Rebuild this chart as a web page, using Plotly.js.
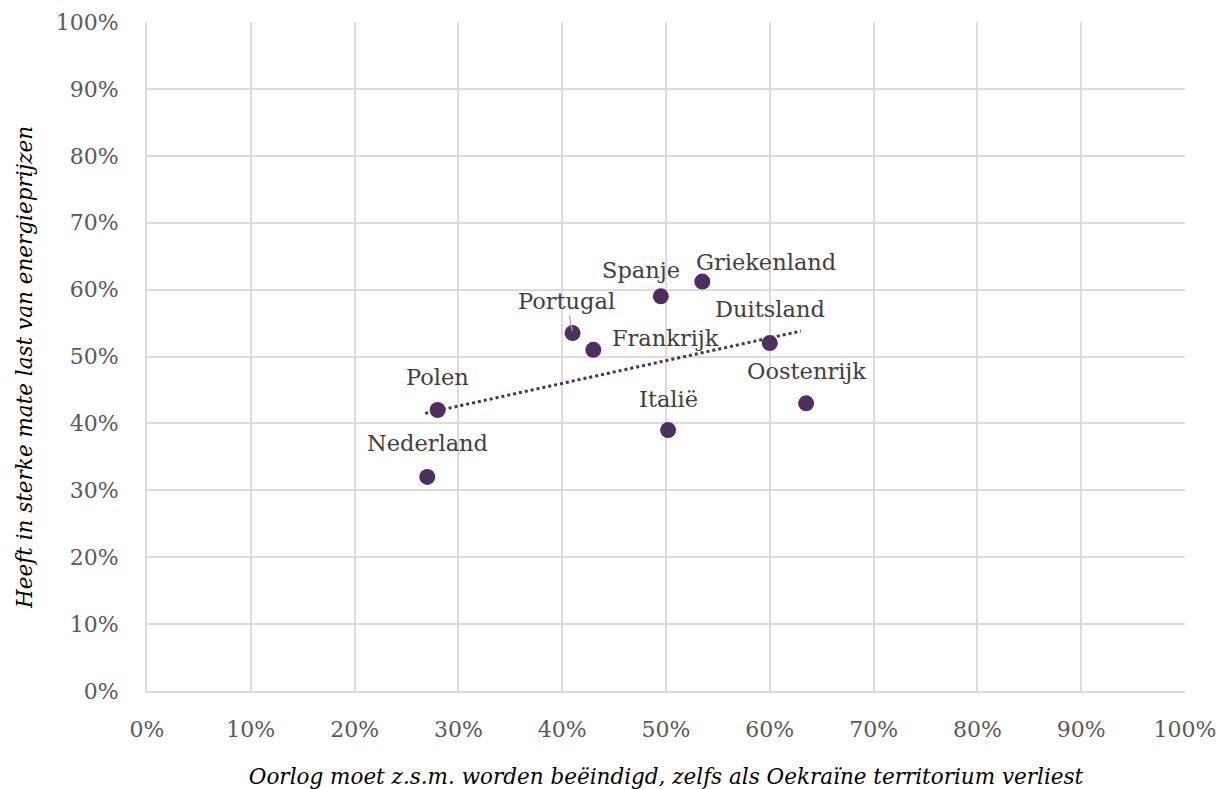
<!DOCTYPE html>
<html>
<head>
<meta charset="utf-8">
<script src="https://cdn.plot.ly/plotly-3.0.1.min.js"></script>
<style>
  html, body { margin: 0; padding: 0; background: #ffffff; }
  #chart { width: 1232px; height: 789px; }
</style>
</head>
<body>
<div id="chart"></div>
<script>
// ---- data (fractions) ----
const countries = ["Nederland", "Polen", "Portugal", "Frankrijk", "Spanje", "Griekenland", "Italië", "Duitsland", "Oostenrijk"];
const warShouldEnd = [0.27, 0.28, 0.41, 0.43, 0.495, 0.535, 0.502, 0.60, 0.635];
const energyBurden = [0.32, 0.42, 0.535, 0.51, 0.59, 0.612, 0.39, 0.52, 0.43];
const trendX = [0.268, 0.630];
const trendY = [0.415, 0.538];
const tickVals = [0, 0.1, 0.2, 0.3, 0.4, 0.5, 0.6, 0.7, 0.8, 0.9, 1.0];
const tickText = ["0%", "10%", "20%", "30%", "40%", "50%", "60%", "70%", "80%", "90%", "100%"];
const xTitle = "Oorlog moet z.s.m. worden beëindigd, zelfs als Oekraïne territorium verliest";
const yTitle = "Heeft in sterke mate last van energieprijzen";

// ---- styling / label placement ----
const purple = "#4f2f5f";
const labelFont = { family: "DejaVu Serif", size: 22.5, color: "#404040" };
const titleFont = { family: "DejaVu Serif", size: 21.5, color: "#000000", style: "italic" };
const labelPlacement = {
  "Nederland":   { dx: 0,   dy: 34 },
  "Polen":       { dx: 0,   dy: 33 },
  "Portugal":    { dx: -6,  dy: 32, arrow: true },
  "Frankrijk":   { dx: 72,  dy: 12 },
  "Spanje":      { dx: -20, dy: 26 },
  "Griekenland": { dx: 64,  dy: 20 },
  "Italië":      { dx: 0,   dy: 31 },
  "Duitsland":   { dx: 0,   dy: 34 },
  "Oostenrijk":  { dx: 0,   dy: 32 }
};

const traces = [
  {
    x: trendX, y: trendY, type: "scatter", mode: "lines",
    line: { color: purple, width: 3, dash: "dot" },
    hoverinfo: "skip", showlegend: false
  },
  {
    x: warShouldEnd, y: energyBurden, type: "scatter", mode: "markers",
    text: countries,
    marker: { color: purple, size: 16 },
    showlegend: false
  }
];

const annotations = countries.map((c, i) => {
  const p = labelPlacement[c];
  if (p.arrow) {
    return {
      x: warShouldEnd[i], y: energyBurden[i], xref: "x", yref: "y",
      text: c, font: labelFont, showarrow: true,
      ax: p.dx, ay: -p.dy, arrowhead: 0, arrowwidth: 1.2, arrowcolor: "#a6a6a6",
      standoff: 2
    };
  }
  return {
    x: warShouldEnd[i], y: energyBurden[i], xref: "x", yref: "y",
    text: c, font: labelFont, showarrow: false,
    xshift: p.dx, yshift: p.dy, xanchor: "center", yanchor: "middle"
  };
});

// y-axis title (placed as a rotated annotation to match the original's offset)
annotations.push({
  text: yTitle, font: titleFont, textangle: -90, showarrow: false,
  xref: "paper", yref: "paper", x: -0.1185, y: 0.4843,
  xanchor: "center", yanchor: "middle"
});

const axisCommon = {
  range: [0, 1], tickvals: tickVals, ticktext: tickText,
  showgrid: true, gridcolor: "#dcdcdc", gridwidth: 2,
  zeroline: false, showline: true, linecolor: "#dcdcdc", linewidth: 2,
  ticks: "", tickfont: { family: "DejaVu Serif", size: 22, color: "#595959" },
  fixedrange: true
};

const layout = {
  width: 1232, height: 789,
  margin: { l: 147, r: 47, t: 22, b: 98 },
  paper_bgcolor: "#ffffff", plot_bgcolor: "#ffffff",
  xaxis: Object.assign({}, axisCommon, {
    ticklabelstandoff: 18,
    title: { text: xTitle, standoff: 29, font: titleFont }
  }),
  yaxis: Object.assign({}, axisCommon, {
    ticklabelstandoff: 22
  }),
  annotations: annotations,
  showlegend: false
};

Plotly.newPlot("chart", traces, layout, { displayModeBar: false, staticPlot: true });
</script>
</body>
</html>
